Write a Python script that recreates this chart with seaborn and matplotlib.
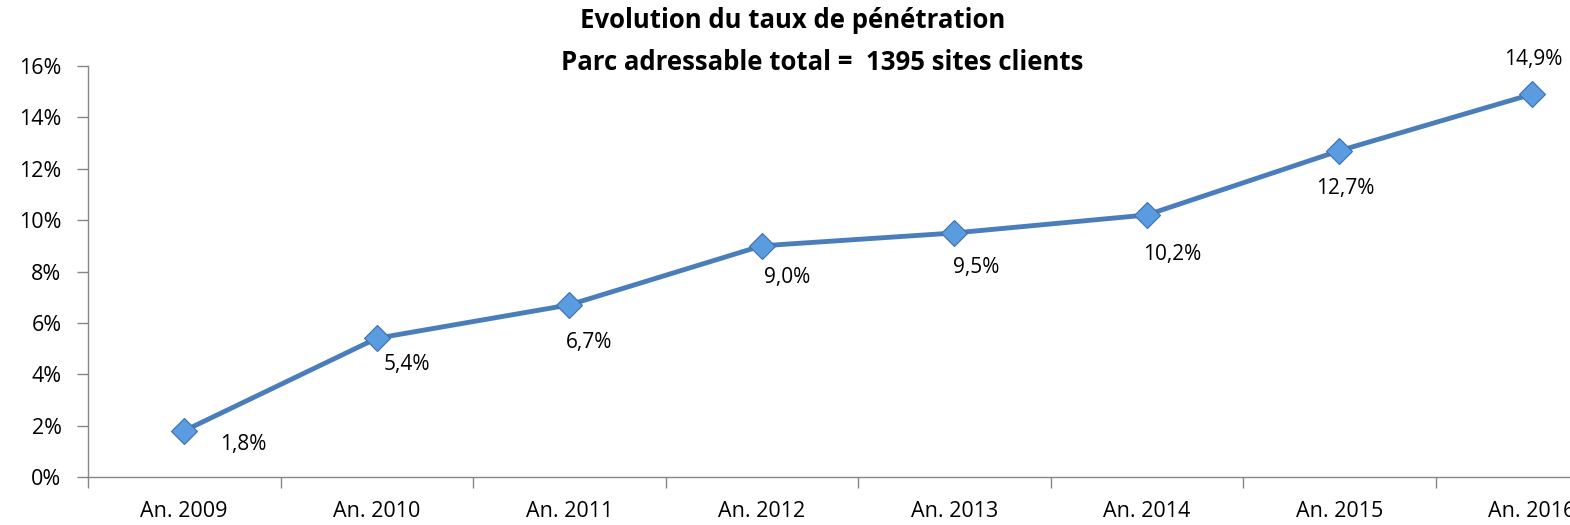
import matplotlib
matplotlib.use('Agg')
import matplotlib.pyplot as plt
import matplotlib.ticker as mticker
import numpy as np
import pandas as pd
import seaborn as sns

years = ['An. 2009', 'An. 2010', 'An. 2011', 'An. 2012',
         'An. 2013', 'An. 2014', 'An. 2015', 'An. 2016']
taux = [1.8, 5.4, 6.7, 9.0, 9.5, 10.2, 12.7, 14.9]
labels = ['1,8%', '5,4%', '6,7%', '9,0%', '9,5%', '10,2%', '12,7%', '14,9%']
# label offsets in pixels from the point
offsets = [(59, -14), (30, -26), (20, -38), (25, -32),
           (22, -35), (25, -40), (6, -38), (1, 35)]


def main():
    sns.set_style('white')
    plt.rcParams['font.family'] = ['Open Sans', 'DejaVu Sans']
    plt.rcParams['text.color'] = 'black'
    plt.rcParams['xtick.labelcolor'] = 'black'
    plt.rcParams['ytick.labelcolor'] = 'black'
    df = pd.DataFrame({'annee': np.arange(len(years)), 'taux': taux})

    fig = plt.figure(figsize=(15.7, 5.25), dpi=100)
    ax = fig.add_axes([88 / 1570, 48 / 525, 1540 / 1570, 411 / 525])

    sns.lineplot(data=df, x='annee', y='taux', ax=ax, color='#4a7ebb',
                 linewidth=3.5, marker='D', markersize=13,
                 markerfacecolor='#5b9be0', markeredgecolor='#3b6fae',
                 markeredgewidth=0.8)

    for i, (v, lab) in enumerate(zip(taux, labels)):
        dx, dy = offsets[i]
        ax.annotate(lab, (i, v), xytext=(dx, dy), textcoords='offset pixels',
                    ha='center', va='center', fontsize=15, color='black')

    ax.set_xlim(-0.5, 7.5)
    ax.set_ylim(0, 16)
    ax.yaxis.set_major_locator(mticker.MultipleLocator(2))
    ax.yaxis.set_major_formatter(mticker.FuncFormatter(lambda v, p: f'{v:.0f}%'))
    ax.set_xticks(np.arange(len(years)))
    ax.set_xticklabels(years)
    ax.set_xticks(np.arange(-0.5, 8, 1), minor=True)
    ax.tick_params(axis='x', which='major', length=0, pad=17, labelsize=15.5)
    ax.tick_params(axis='x', which='minor', length=8, width=1, color='#868686',
                   direction='out', bottom=True)
    ax.tick_params(axis='y', length=8, width=1, color='#868686', direction='out',
                   left=True, labelsize=15.5, pad=11)
    ax.set_xlabel('')
    ax.set_ylabel('')
    for s in ['top', 'right']:
        ax.spines[s].set_visible(False)
    for s in ['left', 'bottom']:
        ax.spines[s].set_color('#868686')
        ax.spines[s].set_linewidth(1)

    fig.text(793 / 1570, 1 - 21 / 525, 'Evolution du taux de pénétration',
             ha='center', va='center', fontsize=18.5, fontweight='bold')
    fig.text(822 / 1570, 1 - 63 / 525, 'Parc adressable total =  1395 sites clients',
             ha='center', va='center', fontsize=18.5, fontweight='bold')

    fig.savefig('out.png', dpi=100)


if __name__ == '__main__':
    main()
